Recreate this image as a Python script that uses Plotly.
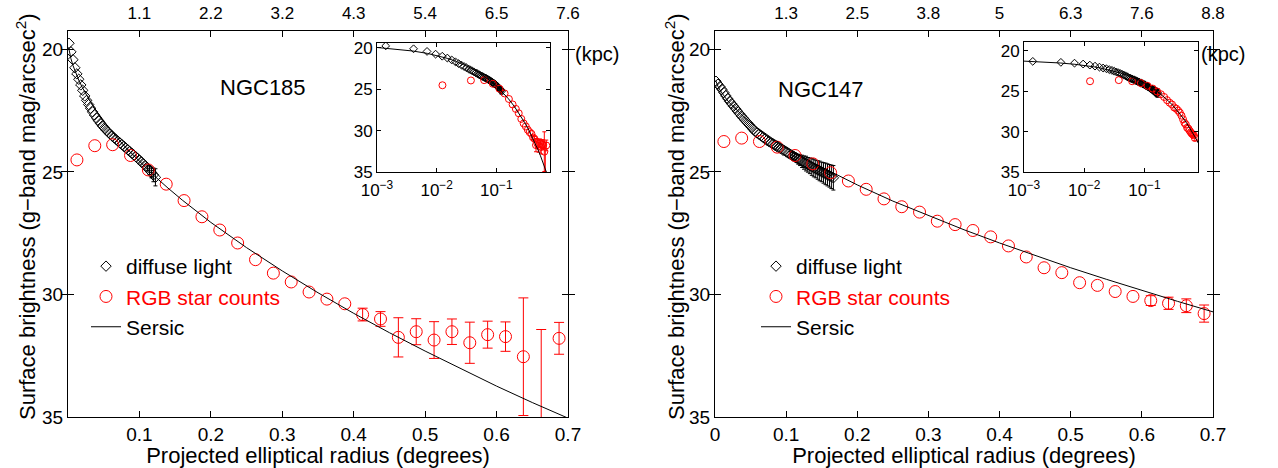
import plotly.graph_objects as go

W, H = 1278, 468
FONT = "Liberation Sans, Arial, Helvetica, sans-serif"

# ---------------- NGC185 ----------------
n185_diffuse_r = [0.0014, 0.0041, 0.0069, 0.0096, 0.0124, 0.0151, 0.0179, 0.0206, 0.0234, 0.0261,
                  0.0289, 0.0316, 0.0344, 0.0371, 0.0399, 0.0426, 0.0454, 0.0481, 0.0509, 0.0536,
                  0.0564, 0.0591, 0.0619, 0.0646, 0.0674, 0.0701, 0.0729, 0.0756, 0.0784, 0.0811,
                  0.0839, 0.0866, 0.0894, 0.0921, 0.0949, 0.0976, 0.1004, 0.1031, 0.1059, 0.1086,
                  0.1114, 0.1141, 0.1169, 0.1196, 0.1224]
n185_diffuse_mu = [19.75, 20.10, 20.42, 20.75, 21.00, 21.22, 21.45, 21.67, 21.90, 22.08,
                   22.25, 22.40, 22.55, 22.68, 22.80, 22.91, 23.02, 23.12, 23.21, 23.30,
                   23.38, 23.46, 23.54, 23.61, 23.68, 23.75, 23.82, 23.89, 23.96, 24.03,
                   24.10, 24.17, 24.24, 24.31, 24.38, 24.45, 24.53, 24.60, 24.68, 24.76,
                   24.84, 24.93, 25.02, 25.12, 25.22]
n185_diffuse_err = [None] * 40 + [0.12, 0.18, 0.22, 0.28, 0.35]

n185_rgb_r = [0.0125, 0.0375, 0.0625, 0.0875, 0.1125, 0.1375, 0.1625, 0.1875, 0.2125, 0.2375,
              0.2625, 0.2875, 0.3125, 0.3375, 0.3625, 0.3875, 0.4125, 0.4375, 0.4625, 0.4875,
              0.5125, 0.5375, 0.5625, 0.5875, 0.6125, 0.6375, 0.6625, 0.6875]
n185_rgb_mu = [24.51, 23.93, 23.89, 24.33, 24.92, 25.50, 26.17, 26.83, 27.37, 27.90,
               28.58, 29.13, 29.49, 29.90, 30.19, 30.38, 30.82, 31.00, 31.75, 31.52,
               31.86, 31.52, 31.97, 31.64, 31.72, 32.54, 36.00, 31.79]
n185_rgb_err = [None] * 16 + [0.26, 0.30, 0.80, 0.53, 0.75, 0.52, 0.84, 0.55, 0.60,
                              2.40, 4.57, 0.65]

n185_sersic_r = [0.001, 0.002, 0.004, 0.007, 0.01, 0.015, 0.02, 0.03, 0.04, 0.05, 0.06, 0.08,
                 0.1, 0.12, 0.14, 0.16, 0.2, 0.25, 0.3, 0.35, 0.4, 0.45, 0.5, 0.55, 0.6, 0.65,
                 0.7, 0.75, 0.79]
n185_sersic_mu = [19.94, 20.11, 20.37, 20.66, 20.90, 21.25, 21.55, 22.07, 22.52, 22.93, 23.30,
                  23.98, 24.58, 25.14, 25.66, 26.15, 27.06, 28.09, 29.04, 29.93, 30.77, 31.56,
                  32.31, 33.04, 33.74, 34.41, 35.06, 35.70, 36.19]

# ---------------- NGC147 ----------------
n147_diffuse_r = [0.0014, 0.0041, 0.0069, 0.0096, 0.0124, 0.0151, 0.0179, 0.0206, 0.0234, 0.0261,
                  0.0289, 0.0316, 0.0344, 0.0371, 0.0399, 0.0426, 0.0454, 0.0481, 0.0509, 0.0536,
                  0.0564, 0.0591, 0.0619, 0.0646, 0.0674, 0.0701, 0.0729, 0.0756, 0.0784, 0.0811,
                  0.0839, 0.0866, 0.0894, 0.0921, 0.0949, 0.0976, 0.1004, 0.1031, 0.1059, 0.1086,
                  0.1114, 0.1141, 0.1169, 0.1196, 0.1224, 0.1251, 0.1279, 0.1306, 0.1334, 0.1361,
                  0.1389, 0.1416, 0.1444, 0.1471, 0.1499, 0.1526, 0.1554, 0.1581, 0.1609, 0.1636,
                  0.1664]
n147_diffuse_mu = [21.30, 21.42, 21.52, 21.63, 21.76, 21.89, 22.01, 22.12, 22.22, 22.32,
                   22.42, 22.52, 22.62, 22.72, 22.81, 22.90, 22.99, 23.08, 23.17, 23.26,
                   23.35, 23.41, 23.47, 23.53, 23.59, 23.65, 23.71, 23.76, 23.81, 23.86,
                   23.91, 23.96, 24.01, 24.05, 24.10, 24.14, 24.19, 24.24, 24.29, 24.34,
                   24.38, 24.43, 24.48, 24.52, 24.57, 24.62, 24.66, 24.71, 24.75, 24.80,
                   24.84, 24.88, 24.92, 24.96, 25.00, 25.04, 25.08, 25.12, 25.16, 25.20,
                   25.24]
n147_diffuse_err = [None] * 38 + [0.12, 0.14, 0.15, 0.17, 0.20, 0.22, 0.25, 0.27, 0.30, 0.30,
                                  0.32, 0.34, 0.36, 0.36, 0.38, 0.40, 0.40, 0.42, 0.44, 0.45,
                                  0.46, 0.48, 0.50]

n147_rgb_r = [0.0125, 0.0375, 0.0625, 0.0875, 0.1125, 0.1375, 0.1625, 0.1875, 0.2125, 0.2375,
              0.2625, 0.2875, 0.3125, 0.3375, 0.3625, 0.3875, 0.4125, 0.4375, 0.4625, 0.4875,
              0.5125, 0.5375, 0.5625, 0.5875, 0.6125, 0.6375, 0.6625, 0.6875]
n147_rgb_mu = [23.76, 23.62, 23.76, 23.99, 24.33, 24.67, 25.03, 25.37, 25.71, 26.10,
               26.42, 26.64, 27.01, 27.15, 27.39, 27.65, 28.02, 28.47, 28.91, 29.11,
               29.52, 29.63, 29.88, 30.08, 30.25, 30.36, 30.46, 30.78]
n147_rgb_err = [None] * 24 + [0.20, 0.25, 0.28, 0.35]

n147_sersic_r = [0.001, 0.002, 0.004, 0.007, 0.01, 0.015, 0.02, 0.03, 0.04, 0.05, 0.06, 0.08,
                 0.1, 0.12, 0.14, 0.166, 0.2, 0.25, 0.3, 0.35, 0.4, 0.45, 0.5, 0.55, 0.6, 0.65,
                 0.7, 0.75, 0.79]
n147_sersic_mu = [21.27, 21.36, 21.50, 21.66, 21.80, 21.99, 22.17, 22.47, 22.74, 22.98, 23.21,
                  23.62, 23.99, 24.33, 24.66, 25.05, 25.53, 26.19, 26.79, 27.36, 27.90, 28.42,
                  28.91, 29.38, 29.84, 30.28, 30.71, 31.13, 31.46]

# ---------------- ticks ----------------
deg_ticks = [0.1, 0.2, 0.3, 0.4, 0.5, 0.6, 0.7]
deg_ticks_147 = [0, 0.1, 0.2, 0.3, 0.4, 0.5, 0.6, 0.7]
mu_ticks = [20, 25, 30, 35]
n185_kpc_labels = ["1.1", "2.2", "3.2", "4.3", "5.4", "6.5", "7.6"]
n147_kpc_labels = ["1.3", "2.5", "3.8", "5", "6.3", "7.6", "8.8"]
log_ticks = [0.001, 0.01, 0.1]
log_labels = ["10<sup>−3</sup>", "10<sup>−2</sup>", "10<sup>−1</sup>"]

RED = "#ff0000"
CLEAR = "rgba(0,0,0,0)"


def fx(px):
    return px / W


def fy(py):
    return 1 - py / H


def with_err(r, mu, err):
    keep = [i for i, e in enumerate(err) if e is not None]
    return [r[i] for i in keep], [mu[i] for i in keep], [err[i] for i in keep]


fig = go.Figure()


def add_panel(xa, xline, ya, dr, dmu, derr, rr, rmu, rerr, sr, smu, inset, legend):
    big = not inset
    # diffuse light: symbols, then the error bars of the points that have them
    fig.add_trace(go.Scatter(
        x=dr, y=dmu, mode="markers", name="diffuse light", xaxis=xa, yaxis=ya,
        marker=dict(symbol="diamond-open", size=8 if big else 6, color="black",
                    line=dict(width=1, color="black")),
        showlegend=big, legend=legend, hoverinfo="skip"))
    ex, ey, ee = with_err(dr, dmu, derr)
    fig.add_trace(go.Scatter(
        x=ex, y=ey, mode="markers", xaxis=xa, yaxis=ya,
        marker=dict(size=2, color=CLEAR, line=dict(width=0, color=CLEAR)),
        error_y=dict(type="data", array=ee, color="black", thickness=1, width=2),
        showlegend=False, hoverinfo="skip"))
    # RGB star counts
    fig.add_trace(go.Scatter(
        x=rr, y=rmu, mode="markers", name='<span style="color:#ff0000">RGB star counts</span>',
        xaxis=xa, yaxis=ya,
        marker=dict(symbol="circle-open", size=12 if big else 7, color=RED,
                    line=dict(width=1, color=RED)),
        showlegend=big, legend=legend, hoverinfo="skip"))
    ex, ey, ee = with_err(rr, rmu, rerr)
    fig.add_trace(go.Scatter(
        x=ex, y=ey, mode="markers", xaxis=xa, yaxis=ya,
        marker=dict(size=2, color=CLEAR, line=dict(width=0, color=CLEAR)),
        error_y=dict(type="data", array=ee, color=RED, thickness=1, width=5 if big else 2),
        showlegend=False, hoverinfo="skip"))
    # Sersic fit
    fig.add_trace(go.Scatter(
        x=sr, y=smu, mode="lines", name="Sersic", xaxis=xline, yaxis=ya,
        line=dict(color="black", width=1),
        showlegend=big, legend=legend, hoverinfo="skip"))


# main panels: the Sersic curve is drawn against the (identical) top kpc axis so that axis shows
add_panel("x", "x5", "y", n185_diffuse_r, n185_diffuse_mu, n185_diffuse_err,
          n185_rgb_r, n185_rgb_mu, n185_rgb_err, n185_sersic_r, n185_sersic_mu, False, "legend")
add_panel("x2", "x6", "y2", n147_diffuse_r, n147_diffuse_mu, n147_diffuse_err,
          n147_rgb_r, n147_rgb_mu, n147_rgb_err, n147_sersic_r, n147_sersic_mu, False, "legend2")
add_panel("x3", "x3", "y3", n185_diffuse_r, n185_diffuse_mu, n185_diffuse_err,
          n185_rgb_r, n185_rgb_mu, n185_rgb_err, n185_sersic_r, n185_sersic_mu, True, "legend")
add_panel("x4", "x4", "y4", n147_diffuse_r, n147_diffuse_mu, n147_diffuse_err,
          n147_rgb_r, n147_rgb_mu, n147_rgb_err, n147_sersic_r, n147_sersic_mu, True, "legend2")

axis_common = dict(showline=True, linecolor="black", linewidth=1, mirror="allticks",
                   ticks="inside", tickcolor="black", showgrid=False, zeroline=False,
                   automargin=False, tickfont=dict(size=19, family=FONT, color="black"))
inset_common = dict(axis_common, ticklen=4, tickfont=dict(size=17, family=FONT, color="black"))
top_common = dict(side="top", range=[0, 0.7], tickvals=deg_ticks, showline=False,
                  showgrid=False, zeroline=False, ticks="outside", ticklen=4,
                  tickcolor=CLEAR, automargin=False,
                  tickfont=dict(size=17, family=FONT, color="black"))

ytitle = "Surface brightness (g−band mag/arcsec<sup>2</sup>)"
xtitle = "Projected elliptical radius (degrees)"

fig.update_layout(
    width=W, height=H, margin=dict(l=0, r=0, t=0, b=0),
    paper_bgcolor="white", plot_bgcolor="white",
    font=dict(family=FONT, color="black", size=19),
    xaxis=dict(axis_common, domain=[fx(68), fx(568)], range=[0, 0.7], anchor="y",
               tickvals=deg_ticks, ticklen=6,
               title=dict(text=xtitle, font=dict(size=22), standoff=4)),
    yaxis=dict(axis_common, domain=[fy(417), fy(31)], range=[35, 19.25], anchor="x",
               tickvals=mu_ticks, ticklen=6),
    xaxis2=dict(axis_common, domain=[fx(715), fx(1213)], range=[0, 0.7], anchor="y2",
                tickvals=deg_ticks_147, ticklen=6,
                title=dict(text=xtitle, font=dict(size=22), standoff=4)),
    yaxis2=dict(axis_common, domain=[fy(417), fy(31)], range=[35, 19.25], anchor="x2",
                tickvals=mu_ticks, ticklen=6),
    xaxis3=dict(inset_common, domain=[fx(377), fx(550)], type="log", range=[-3, -0.1],
                anchor="y3", tickvals=log_ticks, ticktext=log_labels, ticklabelstandoff=3),
    yaxis3=dict(inset_common, domain=[fy(172), fy(43)], range=[35, 19.4], anchor="x3",
                tickvals=mu_ticks),
    xaxis4=dict(inset_common, domain=[fx(1024), fx(1198)], type="log", range=[-3, -0.11],
                anchor="y4", tickvals=log_ticks, ticktext=log_labels, ticklabelstandoff=3),
    yaxis4=dict(inset_common, domain=[fy(172), fy(42)], range=[35, 18.9], anchor="x4",
                tickvals=mu_ticks),
    xaxis5=dict(top_common, overlaying="x", anchor="y", ticktext=n185_kpc_labels),
    xaxis6=dict(top_common, overlaying="x2", anchor="y2", ticktext=n147_kpc_labels),
    legend=dict(x=fx(86), y=fy(246), xanchor="left", yanchor="top",
                bgcolor=CLEAR, font=dict(size=21, family=FONT, color="black"),
                tracegroupgap=0, itemclick=False, itemdoubleclick=False),
    legend2=dict(x=fx(756), y=fy(246), xanchor="left", yanchor="top",
                 bgcolor=CLEAR, font=dict(size=21, family=FONT, color="black"),
                 tracegroupgap=0, itemclick=False, itemdoubleclick=False),
    annotations=[
        dict(text=ytitle, x=fx(26), y=fy(217), xref="paper", yref="paper", textangle=-90,
             xanchor="center", yanchor="middle",
             showarrow=False, font=dict(size=22, family=FONT, color="black")),
        dict(text=ytitle, x=fx(675), y=fy(217), xref="paper", yref="paper", textangle=-90,
             xanchor="center", yanchor="middle",
             showarrow=False, font=dict(size=22, family=FONT, color="black")),
        dict(text="NGC185", x=fx(218), y=fy(73), xref="paper", yref="paper",
             showarrow=False, font=dict(size=22, family=FONT, color="black")),
        dict(text="NGC147", x=fx(866), y=fy(75), xref="paper", yref="paper",
             showarrow=False, font=dict(size=22, family=FONT, color="black")),
        dict(text="(kpc)", x=fx(597), y=fy(41), xref="paper", yref="paper",
             showarrow=False, font=dict(size=20, family=FONT, color="black")),
        dict(text="(kpc)", x=fx(1247), y=fy(41), xref="paper", yref="paper",
             showarrow=False, font=dict(size=20, family=FONT, color="black")),
    ],
)

fig.write_html("out.html", config={"displayModeBar": False},
               post_script="document.body.style.margin='0';")
